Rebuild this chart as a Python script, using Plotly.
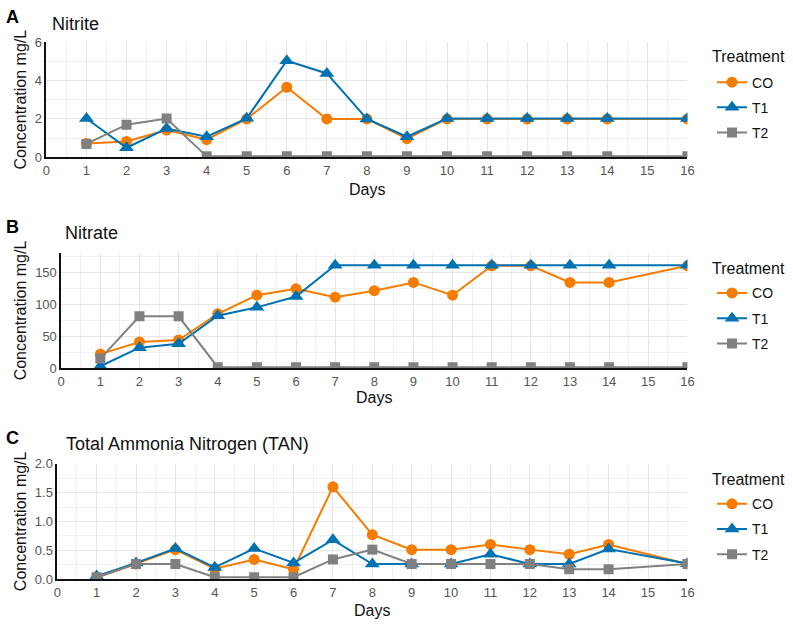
import plotly.graph_objects as go

W, H = 793, 628

days = [1, 2, 3, 4, 5, 6, 7, 8, 9, 10, 11, 12, 13, 14, 16]
treatments = ["CO", "T1", "T2"]

nitrite_co = [0.72, 0.83, 1.42, 0.92, 2.0, 3.65, 2.0, 2.0, 0.97, 2.0, 2.0, 2.0, 2.0, 2.0, 2.0]
nitrite_t1 = [2.02, 0.5, 1.5, 1.07, 2.03, 5.03, 4.37, 2.0, 1.07, 2.02, 2.02, 2.02, 2.02, 2.02, 2.02]
nitrite_t2 = [0.7, 1.7, 2.02, 0.05, 0.05, 0.05, 0.05, 0.05, 0.05, 0.05, 0.05, 0.05, 0.05, 0.05, 0.05]

nitrate_co = [22, 41, 44, 85, 114, 124, 111, 121, 134, 114, 160, 160, 134, 134, 160]
nitrate_t1 = [3, 32, 38, 82, 95, 112, 161, 161, 161, 161, 161, 161, 161, 161, 161]
nitrate_t2 = [15, 81, 81, 1.5, 1.5, 1.5, 1.5, 1.5, 1.5, 1.5, 1.5, 1.5, 1.5, 1.5, 1.5]

tan_co = [0.02, 0.26, 0.51, 0.18, 0.34, 0.17, 1.6, 0.77, 0.51, 0.51, 0.6, 0.51, 0.43, 0.6, 0.26]
tan_t1 = [0.05, 0.28, 0.53, 0.2, 0.53, 0.28, 0.68, 0.26, 0.26, 0.26, 0.43, 0.26, 0.26, 0.52, 0.27]
tan_t2 = [0.03, 0.26, 0.26, 0.03, 0.03, 0.03, 0.34, 0.51, 0.26, 0.26, 0.26, 0.26, 0.17, 0.17, 0.26]

panel_titles = ["Nitrite", "Nitrate", "Total Ammonia Nitrogen (TAN)"]
panel_letters = ["A", "B", "C"]
x_title = "Days"
y_title = "Concentration mg/L"
legend_title = "Treatment"

colors = {"CO": "#F57C00", "T1": "#0072B2", "T2": "#808080"}
symbols = {"CO": "circle", "T1": "triangle-up", "T2": "square"}
msizes = {"CO": 11, "T1": 13, "T2": 10}

panels = [
    dict(data=[nitrite_co, nitrite_t1, nitrite_t2], yrange=[0, 6], dtick=2, minor=1,
         left=43, top=36, bottom=154, letter_y=10, title_y=17, title_x=47, ytitle_x=17,
         xt_y=187, legt_y=51, leg_item_y=81, fmt=""),
    dict(data=[nitrate_co, nitrate_t1, nitrate_t2], yrange=[0, 180], dtick=50, minor=25,
         left=58, top=252, bottom=370, letter_y=225, title_y=232, title_x=60, ytitle_x=17,
         xt_y=400, legt_y=268, leg_item_y=297, fmt=""),
    dict(data=[tan_co, tan_t1, tan_t2], yrange=[0, 2.0], dtick=0.5, minor=0.25,
         left=54, top=468, bottom=586, letter_y=442, title_y=448, title_x=61, ytitle_x=17,
         xt_y=618, legt_y=484, leg_item_y=513, fmt=".1f"),
]

RIGHT = 693
fig = go.Figure()
annotations = []
layout = {}

for i, p in enumerate(panels):
    k = "" if i == 0 else str(i + 1)
    xa, ya = "x" + k, "y" + k
    leg = "legend" + k
    for name, vals in zip(treatments, p["data"]):
        fig.add_trace(go.Scatter(
            x=days, y=vals, name=name, mode="lines+markers",
            xaxis=xa, yaxis=ya, legend=leg, legendgroup=name + k,
            line=dict(color=colors[name], width=2),
            marker=dict(symbol=symbols[name], size=msizes[name], color=colors[name]),
            cliponaxis=True,
        ))
    layout["xaxis" + k] = dict(
        domain=[p["left"] / W, RIGHT / W], anchor=ya, range=[0, 16],
        tickmode="linear", tick0=0, dtick=1, showgrid=True, gridcolor="#E6E6E6", gridwidth=1,
        minor=dict(dtick=0.5, showgrid=True, gridcolor="#F0F0F0", gridwidth=1),
        showline=True, linecolor="#111111", linewidth=2, zeroline=False,
        ticks="", tickfont=dict(family="Liberation Sans, Arial", size=13, color="#555555"),
        fixedrange=True,
    )
    layout["yaxis" + k] = dict(
        domain=[1 - p["bottom"] / H, 1 - p["top"] / H], anchor=xa, range=p["yrange"],
        tickmode="linear", tick0=0, dtick=p["dtick"], tickformat=p["fmt"],
        showgrid=True, gridcolor="#E6E6E6", gridwidth=1,
        minor=dict(dtick=p["minor"], showgrid=True, gridcolor="#F0F0F0", gridwidth=1),
        showline=True, linecolor="#111111", linewidth=1.5, zeroline=False,
        ticks="", tickfont=dict(family="Liberation Sans, Arial", size=13, color="#555555"),
        fixedrange=True,
    )
    layout[leg] = dict(
        x=718 / W, y=1 - (p["leg_item_y"] - 20) / H, xanchor="left", yanchor="top",
        font=dict(size=14, color="#111111"), bgcolor="rgba(0,0,0,0)",
        tracegroupgap=4, itemwidth=30,
    )
    annotations += [
        dict(text="<b>" + panel_letters[i] + "</b>", x=0, y=1 - p["letter_y"] / H,
             xref="paper", yref="paper", xanchor="left", yanchor="middle", showarrow=False,
             font=dict(size=18, color="#000000")),
        dict(text=panel_titles[i], x=p["title_x"] / W, y=1 - p["title_y"] / H,
             xref="paper", yref="paper", xanchor="left", yanchor="middle", showarrow=False,
             font=dict(size=18, color="#111111")),
        dict(text=x_title, x=(p["left"] + RIGHT) / 2 / W, y=1 - p["xt_y"] / H,
             xref="paper", yref="paper", xanchor="center", yanchor="middle", showarrow=False,
             font=dict(size=16, color="#111111")),
        dict(text=y_title, x=p["ytitle_x"] / W, y=1 - (p["top"] + p["bottom"]) / 2 / H,
             xref="paper", yref="paper", xanchor="center", yanchor="middle", showarrow=False,
             textangle=-90, font=dict(size=16, color="#111111")),
        dict(text=legend_title, x=716 / W, y=1 - p["legt_y"] / H,
             xref="paper", yref="paper", xanchor="left", yanchor="middle", showarrow=False,
             font=dict(size=16, color="#111111")),
    ]

fig.update_layout(
    width=W, height=H, margin=dict(l=0, r=0, t=0, b=0),
    paper_bgcolor="white", plot_bgcolor="white",
    font=dict(family="Liberation Sans, Arial", color="#111111"),
    annotations=annotations, showlegend=True,
    **layout,
)

fig.write_html("out.html", config={"displayModeBar": False})
